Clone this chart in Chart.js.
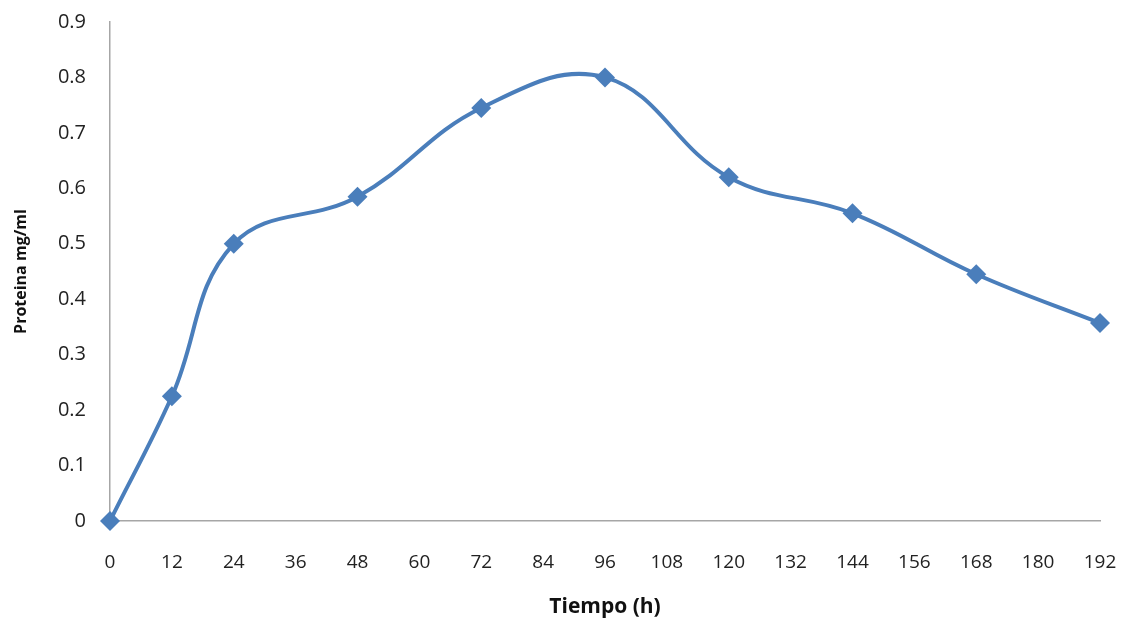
<!DOCTYPE html>
<html>
<head>
<meta charset="utf-8">
<script src="https://cdn.jsdelivr.net/npm/chart.js@4/dist/chart.umd.min.js"></script>
<style>
  html, body { margin: 0; padding: 0; background: #fff; }
  #wrap { width: 1128px; height: 620px; }
</style>
</head>
<body>
<div id="wrap"><canvas id="grafico"></canvas></div>
<script>
// datos
const horas = [0, 12, 24, 48, 72, 96, 120, 144, 168, 192];
const proteina = [0, 0.225, 0.5, 0.585, 0.745, 0.8, 0.62, 0.555, 0.445, 0.357];
const ticksX = [0, 12, 24, 36, 48, 60, 72, 84, 96, 108, 120, 132, 144, 156, 168, 180, 192];
const ticksY = [0, 0.1, 0.2, 0.3, 0.4, 0.5, 0.6, 0.7, 0.8, 0.9];

const azul = "#4a7ebb";
const gris = "#a6a6a6";
const fuente = "'Open Sans', 'DejaVu Sans', sans-serif";

const puntos = horas.map((h, i) => ({ x: h, y: proteina[i] }));

new Chart(document.getElementById("grafico"), {
    type: "line",
    data: {
        datasets: [{
            label: "Proteina",
            data: puntos,
            borderColor: azul,
            backgroundColor: azul,
            borderWidth: 4,
            tension: 0.4,
            pointStyle: "rectRot",
            pointRadius: 10,
            pointHoverRadius: 10,
            pointBorderWidth: 0,
            fill: false,
            clip: false
        }]
    },
    options: {
        responsive: true,
        maintainAspectRatio: false,
        animation: false,
        layout: { autoPadding: false, padding: { top: 22, right: 28, left: 12, bottom: 0 } },
        plugins: { legend: { display: false }, tooltip: { enabled: false } },
        scales: {
            x: {
                type: "linear",
                min: 0,
                max: 192,
                afterBuildTicks: axis => { axis.ticks = ticksX.map(v => ({ value: v })); },
                afterFit: axis => { axis.height = 99; axis.paddingLeft = 0; axis.paddingRight = 0; },
                grid: { display: false, drawTicks: false },
                border: { color: gris, width: 1.5 },
                ticks: { color: "#222", font: { family: fuente, size: 19 }, padding: 30, maxRotation: 0, autoSkip: false },
                title: { display: true, text: "Tiempo (h)", color: "#111", font: { family: fuente, size: 21, weight: "bold" }, padding: { top: 4, bottom: 0 } }
            },
            y: {
                min: 0,
                max: 0.9,
                afterBuildTicks: axis => { axis.ticks = ticksY.map(v => ({ value: v })); },
                afterFit: axis => { axis.width = 98; axis.paddingTop = 0; axis.paddingBottom = 0; },
                grid: { display: false, drawTicks: false },
                border: { color: gris, width: 1.5 },
                ticks: { color: "#222", font: { family: fuente, size: 20 }, padding: 24, callback: v => String(Math.round(v * 10) / 10) },
                title: { display: true, text: "Proteina mg/ml", color: "#111", font: { family: fuente, size: 16, weight: "bold" }, padding: { top: 0, bottom: 4 } }
            }
        }
    }
});
</script>
</body>
</html>
